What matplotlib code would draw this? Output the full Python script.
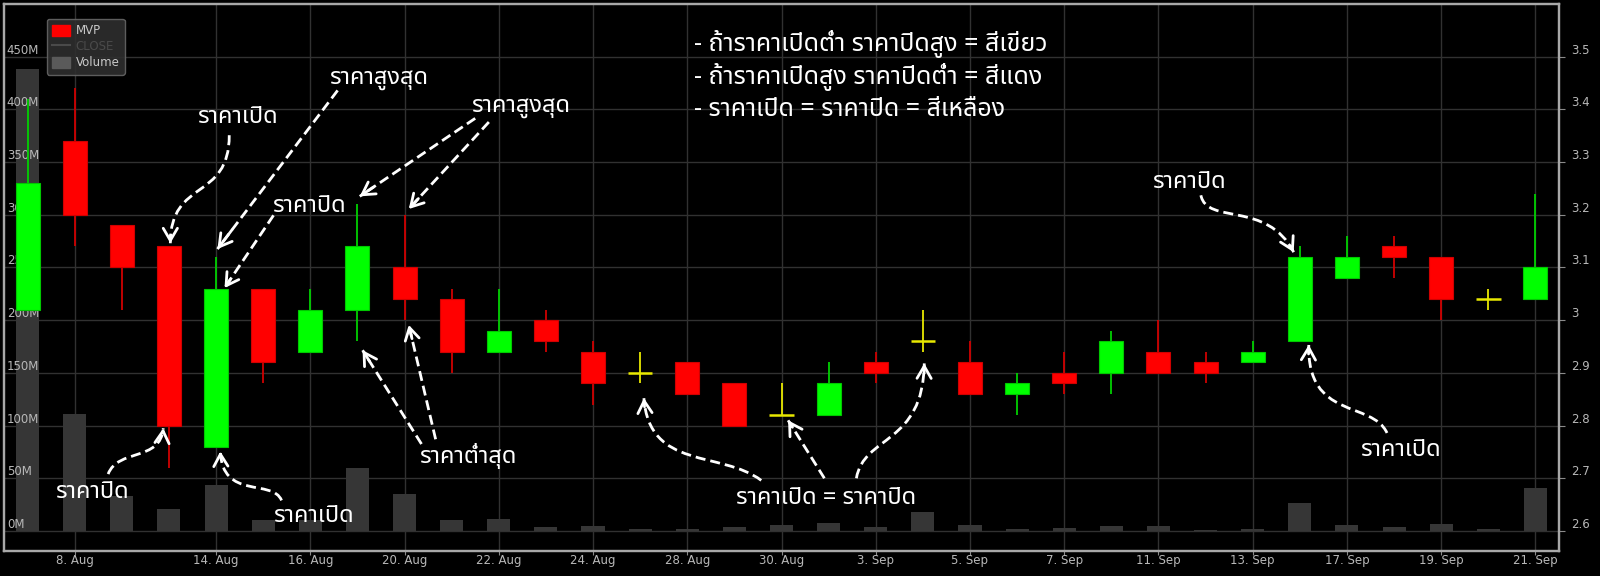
import numpy as np
import matplotlib
matplotlib.use('Agg')
import matplotlib.pyplot as plt
from matplotlib import font_manager
from matplotlib.ft2font import FT2Font
from matplotlib.patches import Patch, PathPatch
from matplotlib.lines import Line2D
from matplotlib.path import Path

# --- data -------------------------------------------------------------
dates = ['7. Aug', '8. Aug', '9. Aug', '10. Aug', '14. Aug', '15. Aug', '16. Aug',
         '17. Aug', '20. Aug', '21. Aug', '22. Aug', '23. Aug', '24. Aug', '27. Aug',
         '28. Aug', '29. Aug', '30. Aug', '31. Aug', '3. Sep', '4. Sep', '5. Sep',
         '6. Sep', '7. Sep', '10. Sep', '11. Sep', '12. Sep', '13. Sep', '14. Sep',
         '17. Sep', '18. Sep', '19. Sep', '20. Sep', '21. Sep']
opens = [3.02, 3.34, 3.18, 3.14, 2.76, 3.06, 2.94, 3.02, 3.10, 3.04, 2.94, 3.00,
         2.94, 2.90, 2.92, 2.88, 2.82, 2.82, 2.92, 2.96, 2.92, 2.86, 2.90, 2.90,
         2.94, 2.92, 2.92, 2.96, 3.08, 3.14, 3.12, 3.04, 3.04]
highs = [3.42, 3.44, 3.18, 3.14, 3.12, 3.06, 3.06, 3.22, 3.20, 3.06, 3.06, 3.02,
         2.96, 2.94, 2.92, 2.88, 2.88, 2.92, 2.94, 3.02, 2.96, 2.90, 2.94, 2.98,
         3.00, 2.94, 2.96, 3.14, 3.16, 3.16, 3.12, 3.06, 3.24]
lows = [3.02, 3.14, 3.02, 2.72, 2.76, 2.88, 2.94, 2.96, 3.00, 2.90, 2.94, 2.94,
        2.84, 2.88, 2.86, 2.80, 2.82, 2.82, 2.88, 2.94, 2.86, 2.82, 2.86, 2.86,
        2.90, 2.88, 2.92, 2.96, 3.08, 3.08, 3.00, 3.02, 3.04]
closes = [3.26, 3.20, 3.10, 2.80, 3.06, 2.92, 3.02, 3.14, 3.04, 2.94, 2.98, 2.96,
          2.88, 2.90, 2.86, 2.80, 2.82, 2.88, 2.90, 2.96, 2.86, 2.88, 2.88, 2.96,
          2.90, 2.90, 2.94, 3.12, 3.12, 3.12, 3.04, 3.04, 3.10]
volumes = [438, 111, 33, 21, 44, 10.5, 10, 60, 35, 10.5, 11.5, 3.5, 5, 2.2, 2.2,
           3.5, 5.7, 7.6, 3.5, 17.7, 5.7, 2.2, 2.5, 5.0, 5.0, 1.3, 1.9, 26.8, 6.0,
           3.8, 6.9, 1.9, 40.6]  # millions

tick_dates = ['8. Aug', '14. Aug', '16. Aug', '20. Aug', '22. Aug', '24. Aug',
              '28. Aug', '30. Aug', '3. Sep', '5. Sep', '7. Sep', '11. Sep',
              '13. Sep', '17. Sep', '19. Sep', '21. Sep']
vol_ticks = [0, 50, 100, 150, 200, 250, 300, 350, 400, 450]
price_ticks = [2.6, 2.7, 2.8, 2.9, 3.0, 3.1, 3.2, 3.3, 3.4, 3.5]

rules = ['- ถ้าราคาเปิดต่ำ ราคาปิดสูง = สีเขียว',
         '- ถ้าราคาเปิดสูง ราคาปิดต่ำ = สีแดง',
         '- ราคาเปิด = ราคาปิด = สีเหลือง']

# labels placed in (day index, price) coordinates
notes = [('ราคาเปิด', 4.45, 3.385), ('ราคาสูงสุด', 7.45, 3.459),
         ('ราคาสูงสุด', 10.47, 3.406), ('ราคาปิด', 5.96, 3.216),
         ('ราคาปิด', 1.37, 2.674), ('ราคาเปิด', 6.07, 2.628),
         ('ราคาต่ำสุด', 9.34, 2.742), ('ราคาเปิด = ราคาปิด', 16.95, 2.662),
         ('ราคาปิด', 24.64, 3.262), ('ราคาเปิด', 29.13, 2.753)]

# dashed arrows: 2 points = straight, 4 points = cubic curve (last point = tip)
arrows = [
    [(4.28, 3.351), (4.28, 3.225), (3.03, 3.270), (3.03, 3.146)],
    [(6.58, 3.436), (4.03, 3.135)],
    [(5.22, 3.199), (4.18, 3.061)],
    [(9.50, 3.383), (7.05, 3.235)],
    [(9.79, 3.376), (8.09, 3.211)],
    [(8.36, 2.765), (7.11, 2.943)],
    [(8.66, 2.774), (8.09, 2.991)],
    [(1.71, 2.708), (1.92, 2.757), (2.82, 2.731), (2.88, 2.795)],
    [(5.39, 2.658), (5.20, 2.700), (4.13, 2.658), (4.09, 2.751)],
    [(15.57, 2.696), (14.72, 2.753), (13.19, 2.715), (13.08, 2.852)],
    [(16.91, 2.700), (16.14, 2.810)],
    [(17.59, 2.700), (17.74, 2.782), (19.01, 2.763), (19.03, 2.918)],
    [(24.90, 3.237), (25.03, 3.180), (26.30, 3.228), (26.87, 3.129)],
    [(28.85, 2.786), (28.53, 2.848), (27.15, 2.810), (27.19, 2.953)],
]


def thai_font():
    names = []
    for f in font_manager.fontManager.ttflist:
        try:
            cmap = FT2Font(f.fname).get_charmap()
        except Exception:
            continue
        if 0x0E23 in cmap and 0x0E34 in cmap:
            names.append(f.name)
    for pref in ['Noto Sans Thai', 'Noto Sans Thai UI', 'Kanit', 'Prompt', 'Sarabun',
                 'Loma', 'Garuda', 'Norasi', 'Waree', 'Umpush']:
        if pref in names:
            return pref
    return names[0] if names else 'DejaVu Sans'


TH = thai_font()
plt.rcParams['font.family'] = ['DejaVu Sans']

x = np.arange(len(dates))
o, h, l, c = map(np.array, (opens, highs, lows, closes))
up = c > o
down = c < o
flat = c == o

GRID = '#313131'
LBL = '#b8b8b8'

fig = plt.figure(figsize=(16, 5.76), dpi=100, facecolor='black')
ax = fig.add_axes([4 / 1600, 25 / 576, 1555 / 1600, 547 / 576])
ax.set_facecolor('black')
ax2 = ax.twinx()

# volume on the back axis
ax.bar(x, volumes, width=0.49, color='#363636', zorder=1)
ax.set_xlim(-0.5, len(dates) - 0.5)
ax.set_ylim(-19, 500)
ax.set_yticks(vol_ticks)
ax.tick_params(axis='y', left=False, labelleft=False)
ax.set_xticks([dates.index(d) for d in tick_dates])
ax.set_xticklabels(tick_dates)
ax.tick_params(axis='x', colors='#8a8a8a', labelcolor=LBL, labelsize=8.5, length=3, pad=-0.5)
ax.grid(True, color=GRID, lw=1)
ax.set_axisbelow(True)
for v in vol_ticks:
    ax.text(0.0018, v, f'{v}M', transform=ax.get_yaxis_transform(), ha='left',
            va='bottom', color=LBL, fontsize=8.5, zorder=2)

# candles on the price axis
ax2.set_ylim(2.562, 3.6)
wick_col = np.where(up, '#00d000', np.where(down, '#d00000', '#e8e800'))
ax2.vlines(x, l, h, colors=wick_col, lw=1.3, zorder=3)
ax2.bar(x[up], (c - o)[up], bottom=o[up], width=0.51, color='#00ff00',
        edgecolor='#00c800', lw=0.8, zorder=4)
ax2.bar(x[down], (o - c)[down], bottom=c[down], width=0.51, color='#ff0000',
        edgecolor='#d00000', lw=0.8, zorder=4)
ax2.hlines(o[flat], x[flat] - 0.26, x[flat] + 0.26, colors='#e8e800', lw=1.8, zorder=4)
ax2.set_yticks(price_ticks, [f'{p:g}' for p in price_ticks], va='bottom')
ax2.tick_params(axis='y', colors='#8a8a8a', labelcolor=LBL, labelsize=8.5, length=4, pad=5)

for a in (ax, ax2):
    for s in a.spines.values():
        s.set_color('#a8a8a8')
        s.set_linewidth(1.6)

# legend
handles = [Patch(facecolor='#ff0000', edgecolor='#ff0000'),
           Line2D([], [], color='#4a4a4a', lw=1.5),
           Patch(facecolor='#5a5a5a', edgecolor='#5a5a5a')]
leg = ax2.legend(handles, ['MVP', 'CLOSE', 'Volume'], loc='upper left',
                 bbox_to_anchor=(0.0277, 0.9726), fancybox=True, facecolor='#2e2e2e',
                 edgecolor='#666666', framealpha=0.9, fontsize=8.5, handlelength=1.45,
                 handleheight=1.05, handletextpad=0.5, labelspacing=0.25,
                 borderpad=0.45, borderaxespad=0)
leg.set_zorder(10)
for t, col in zip(leg.get_texts(), ['#c8c8c8', '#4a4a4a', '#c8c8c8']):
    t.set_color(col)

# explanation text
for i, line in enumerate(rules):
    ax2.text(14.15, 3.524 - i * 0.0625, line, color='white', fontsize=18,
             family=[TH, 'DejaVu Sans'], ha='left', va='center', zorder=6)

for txt, tx, ty in notes:
    ax2.text(tx, ty, txt, color='white', fontsize=17, family=[TH, 'DejaVu Sans'],
             ha='center', va='center', zorder=6)

dash = (0, (3.6, 1.8))
for pts in arrows:
    codes = [Path.MOVETO, Path.LINETO] if len(pts) == 2 else \
        [Path.MOVETO, Path.CURVE4, Path.CURVE4, Path.CURVE4]
    ax2.add_patch(PathPatch(Path(pts, codes), fill=False, edgecolor='white', lw=2,
                            linestyle=dash, zorder=6))
    tip = np.array(pts[-1])
    prev = np.array(pts[-2])
    ax2.annotate('', xy=tip, xytext=tip + 0.12 * (prev - tip),
                 arrowprops=dict(arrowstyle='->,head_length=0.55,head_width=0.32',
                                 color='white', lw=2, shrinkA=0, shrinkB=0,
                                 mutation_scale=16), zorder=6)

fig.savefig('out.png', dpi=100, facecolor='black')
